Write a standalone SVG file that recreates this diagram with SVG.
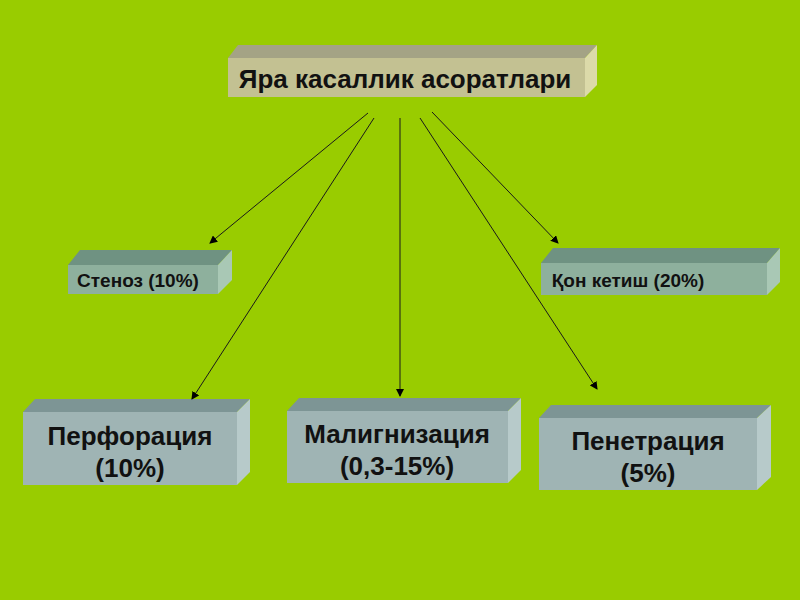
<svg xmlns="http://www.w3.org/2000/svg" width="800" height="600" viewBox="0 0 800 600">
<defs>
<marker id="ah" markerWidth="8" markerHeight="8" refX="7" refY="4" orient="auto" markerUnits="userSpaceOnUse"><path d="M0,0 L8,4 L0,8 z" fill="#000"/></marker>
<style>
text{font-family:"Liberation Sans",Arial,sans-serif;font-weight:bold;fill:#111;text-anchor:middle}
.c line{stroke:#1a1a1a;stroke-width:1;marker-end:url(#ah)}
.kf{fill:#c3c192}.kt{fill:#a4a385}.ks{fill:#dcdaa9}
.gf{fill:#8eb09d}.gt{fill:#6f9282}.gs{fill:#a9c8b5}
.bf{fill:#9fb4b4}.bt{fill:#7d9595}.bs{fill:#b7caca}
</style>
</defs>
<rect width="800" height="600" fill="#99cc00"/>
<g id="top"><polygon class="kt" points="228,58 238,45 597,45 585,58"/><polygon class="ks" points="585,58 597,45 597,85 585,97"/><rect class="kf" x="228" y="58" width="357" height="39"/><text x="405" y="88" font-size="26">Яра касаллик асоратлари</text></g>
<g id="stenoz"><polygon class="gt" points="68,265 80,250 232,250 218,265"/><polygon class="gs" points="218,265 232,250 232,280 218,294"/><rect class="gf" x="68" y="265" width="150" height="29"/><text x="138" y="287" font-size="19">Стеноз (10%)</text></g>
<g id="qon"><polygon class="gt" points="541,263 553,248 780,248 767,263"/><polygon class="gs" points="767,263 780,248 780,282 767,295"/><rect class="gf" x="541" y="263" width="226" height="32"/><text x="628" y="287" font-size="19">Қон кетиш (20%)</text></g>
<g id="perf"><polygon class="bt" points="23,412 35,399 250,399 237,412"/><polygon class="bs" points="237,412 250,399 250,472 237,485"/><rect class="bf" x="23" y="412" width="214" height="73"/><text x="130" y="445" font-size="26">Перфорация</text><text x="130" y="477" font-size="26">(10%)</text></g>
<g id="malign"><polygon class="bt" points="287,411 299,398 521,398 508,411"/><polygon class="bs" points="508,411 521,398 521,470 508,483"/><rect class="bf" x="287" y="411" width="221" height="72"/><text x="397" y="443" font-size="26">Малигнизация</text><text x="397" y="475" font-size="26">(0,3-15%)</text></g>
<g id="penet"><polygon class="bt" points="539,418 551,405 771,405 757,418"/><polygon class="bs" points="757,418 771,405 771,477 757,490"/><rect class="bf" x="539" y="418" width="218" height="72"/><text x="648" y="450" font-size="26">Пенетрация</text><text x="648" y="482" font-size="26">(5%)</text></g>
<g class="c">
<line x1="368" y1="113" x2="210" y2="243"/>
<line x1="374" y1="118" x2="192" y2="399"/>
<line x1="400" y1="118" x2="400" y2="396"/>
<line x1="420" y1="118" x2="597" y2="389"/>
<line x1="432" y1="112" x2="558" y2="243"/>
</g>
</svg>
